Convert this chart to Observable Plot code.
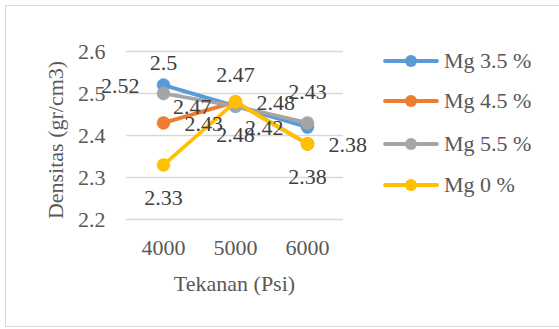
<!DOCTYPE html>
<html>
<head>
<meta charset="utf-8">
<script src="https://cdn.jsdelivr.net/npm/d3@7"></script>
<script src="https://cdn.jsdelivr.net/npm/@observablehq/plot@0.6"></script>
<style>
  html, body { margin: 0; padding: 0; background: #fff; }
  #wrap { position: relative; width: 559px; height: 329px; overflow: hidden; font-family: "Liberation Serif", "Times New Roman", serif; }
  #border { position: absolute; left: 5px; top: 5px; width: 600px; height: 322px; border: 1.5px solid #d9d9d9; box-sizing: border-box; }
  #chart { position: absolute; left: 0; top: 0; }
  #chart text { font-family: "Liberation Serif", "Times New Roman", serif !important; font-variant: normal !important; }
  #legend { position: absolute; left: 383px; top: 0; }
  .item { position: absolute; left: 0; height: 24px; white-space: nowrap; font-size: 22px; color: #595959; display: flex; align-items: center; }
  .item svg { margin-right: 5px; }
</style>
</head>
<body>
<div id="wrap">
  <div id="border"></div>
  <div id="chart"></div>
  <div id="legend"></div>
</div>
<script>
// ---- data ----
const categories = ["4000", "5000", "6000"];
const seriesNames = ["Mg 3.5 %", "Mg 4.5 %", "Mg 5.5 %", "Mg 0 %"];
const mg35 = [2.52, 2.47, 2.42];
const mg45 = [2.43, 2.48, 2.38];
const mg55 = [2.50, 2.47, 2.43];
const mg0  = [2.33, 2.48, 2.38];
const yTicks = [2.2, 2.3, 2.4, 2.5, 2.6];
const xTitle = "Tekanan (Psi)";
const yTitle = "Densitas (gr/cm3)";

// ---- styling ----
const FONT = "Liberation Serif";
const colors = ["#5B9BD5", "#ED7D31", "#A5A5A5", "#FFC000"];
const labelPlacement = ["left", "right", "above", "below"];
const offsets = {
  left:  {dx: -24, dy: 1, textAnchor: "end"},
  right: {dx: 21, dy: 1, textAnchor: "start"},
  above: {dx: 0, dy: -31, textAnchor: "middle"},
  below: {dx: 0, dy: 33, textAnchor: "middle"}
};

const allValues = [mg35, mg45, mg55, mg0];
const rows = [];
allValues.forEach((vals, s) => {
  vals.forEach((v, i) => rows.push({series: seriesNames[s], s, x: categories[i], y: v, label: String(v)}));
});

const W = 559, H = 329;
const marks = [
  Plot.gridY(yTicks, {stroke: "#d9d9d9", strokeOpacity: 1, strokeWidth: 1.5}),
  Plot.axisY(yTicks, {tickSize: 0, tickPadding: 21, tickFormat: d => d.toFixed(1), fontSize: 22, fontFamily: FONT, fill: "#595959", label: null}),
  Plot.axisX(categories, {tickSize: 0, tickPadding: 20, fontSize: 22, fontFamily: FONT, fill: "#595959", label: null})
];
seriesNames.forEach((name, s) => {
  const data = rows.filter(r => r.s === s);
  marks.push(Plot.line(data, {x: "x", y: "y", stroke: colors[s], strokeWidth: 3.8, strokeLinecap: "round", strokeLinejoin: "round"}));
  marks.push(Plot.dot(data, {x: "x", y: "y", r: 6.5, fill: colors[s], stroke: colors[s], strokeWidth: 0.5}));
});
seriesNames.forEach((name, s) => {
  const data = rows.filter(r => r.s === s);
  const o = offsets[labelPlacement[s]];
  marks.push(Plot.text(data, {x: "x", y: "y", text: "label", dx: o.dx, dy: o.dy, textAnchor: o.textAnchor, fontSize: 22, fontFamily: FONT, fill: "#404040"}));
});

const plot = Plot.plot({
  width: W, height: H,
  marginLeft: 126, marginRight: 216, marginTop: 51, marginBottom: 110,
  x: {type: "point", domain: categories, padding: 0.5, axis: null},
  y: {domain: [2.2, 2.6], axis: null},
  style: {fontFamily: FONT, fontSize: "22px", background: "transparent", color: "#595959", overflow: "visible"},
  marks
});
document.getElementById("chart").appendChild(plot);

// axis titles
const svg = d3.select(plot);
svg.append("text")
  .attr("transform", "translate(55,140) rotate(-90)")
  .attr("text-anchor", "middle").attr("dominant-baseline", "central")
  .attr("font-family", FONT).attr("font-size", 22).attr("fill", "#595959")
  .text(yTitle);
svg.append("text")
  .attr("x", 234.5).attr("y", 283)
  .attr("text-anchor", "middle").attr("dominant-baseline", "central")
  .attr("font-family", FONT).attr("font-size", 22).attr("fill", "#595959")
  .text(xTitle);

// ---- legend ----
const legend = document.getElementById("legend");
const rowY = [61, 101, 144, 185];
seriesNames.forEach((name, s) => {
  const item = document.createElement("div");
  item.className = "item";
  item.style.top = (rowY[s] - 12) + "px";
  item.innerHTML = `<svg width="56" height="16"><line x1="2" y1="8" x2="54" y2="8" stroke="${colors[s]}" stroke-width="3.8" stroke-linecap="round"/><circle cx="28" cy="8" r="6" fill="${colors[s]}"/></svg><span>${name}</span>`;
  legend.appendChild(item);
});
</script>
</body>
</html>
